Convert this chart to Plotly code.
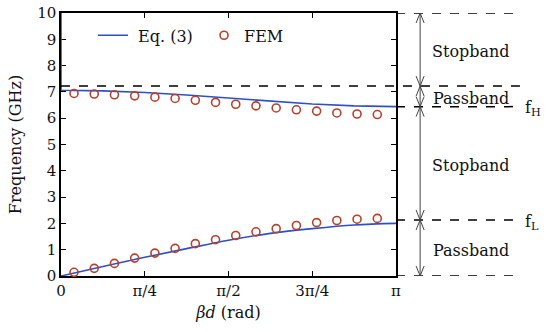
import math
import plotly.graph_objects as go

PI = math.pi

# Eq. (3) dispersion curves
eq_lower_x = [0, PI/8, 2*PI/8, 3*PI/8, 4*PI/8, 5*PI/8, 6*PI/8, 7*PI/8, PI]
eq_lower_y = [0.0, 0.36, 0.71, 1.04, 1.36, 1.62, 1.80, 1.94, 2.00]
eq_upper_x = [0, 0, PI/8, 2*PI/8, 3*PI/8, 4*PI/8, 5*PI/8, 6*PI/8, 7*PI/8, PI]
eq_upper_y = [10.0, 7.06, 7.04, 6.98, 6.88, 6.76, 6.64, 6.54, 6.47, 6.44]

# FEM points
fem_x = [0.122 + 0.1896 * k for k in range(17)]
fem_lower = [0.14, 0.29, 0.48, 0.68, 0.87, 1.05, 1.23, 1.38, 1.54,
             1.68, 1.80, 1.92, 2.03, 2.11, 2.16, 2.19, 2.22]
fem_upper = [6.94, 6.92, 6.89, 6.85, 6.80, 6.75, 6.68, 6.60, 6.53,
             6.47, 6.39, 6.32, 6.27, 6.20, 6.16, 6.14, 6.11]

x_tickvals = [0, PI/4, PI/2, 3*PI/4, PI]
x_ticktext = ["0", "π/4", "π/2", "3π/4", "π"]

band_edges = [10.0, 7.22, 6.44, 2.13, 0.0]
band_labels = ["Stopband", "Passband", "Stopband", "Passband"]
edge_names = {6.44: "f<sub>H</sub>", 2.13: "f<sub>L</sub>"}

FONT = "DejaVu Serif"
BLUE = "#2F4FC8"
RED = "#B8402A"

fig = go.Figure()
fig.add_trace(go.Scatter(x=eq_lower_x, y=eq_lower_y, mode="lines", name="\u00a0Eq. (3)",
                         line=dict(color=BLUE, width=1.6), line_shape="spline",
                         cliponaxis=False, legend="legend"))
fig.add_trace(go.Scatter(x=eq_upper_x, y=eq_upper_y, mode="lines", name="Eq. (3)",
                         line=dict(color=BLUE, width=1.6),
                         cliponaxis=False, showlegend=False))
fig.add_trace(go.Scatter(x=fem_x, y=fem_lower, mode="markers", name="FEM",
                         marker=dict(symbol="circle-open", size=8, color=RED,
                                     line=dict(width=1.6, color=RED)),
                         cliponaxis=False, legend="legend2"))
fig.add_trace(go.Scatter(x=fem_x, y=fem_upper, mode="markers", name="FEM",
                         marker=dict(symbol="circle-open", size=8, color=RED,
                                     line=dict(width=1.6, color=RED)),
                         cliponaxis=False, showlegend=False))

shapes = []
XR = 1.37
for e in band_edges:
    x0 = 0 if abs(e - 7.22) < 1e-9 else 1
    shapes.append(dict(type="line", xref="paper", yref="y", x0=x0, x1=XR, y0=e, y1=e,
                       line=dict(color="black", width=1.5, dash="dash")))

AX = 1.072
HW = 0.012
HL = 0.38
ACOL = "#444444"
annotations = []
for i, lab in enumerate(band_labels):
    top, bot = band_edges[i], band_edges[i + 1]
    shapes.append(dict(type="line", xref="paper", yref="y", x0=AX, x1=AX, y0=top, y1=bot,
                       line=dict(color=ACOL, width=1)))
    for tip, d in ((top, -HL), (bot, HL)):
        for s in (-1, 1):
            shapes.append(dict(type="line", xref="paper", yref="y",
                               x0=AX, x1=AX + s * HW, y0=tip, y1=tip + d,
                               line=dict(color=ACOL, width=1)))
    annotations.append(dict(xref="paper", yref="y", x=1.223, y=(top + bot) / 2 - 0.08,
                            text=lab, showarrow=False, xanchor="center", yanchor="middle",
                            font=dict(family=FONT, size=16, color="#111")))
for e, name in edge_names.items():
    annotations.append(dict(xref="paper", yref="y", x=1.38, y=e - 0.08, text=name,
                            showarrow=False, xanchor="left", yanchor="middle",
                            font=dict(family=FONT, size=16, color="#111")))

legend_common = dict(orientation="h", y=0.915, xanchor="left", yanchor="middle",
                     bgcolor="rgba(0,0,0,0)", font=dict(family=FONT, size=16), itemwidth=30)
fig.update_layout(
    width=550, height=332,
    margin=dict(l=61, r=154, t=13, b=56, autoexpand=False),
    paper_bgcolor="white", plot_bgcolor="white",
    font=dict(family=FONT, size=15, color="#111"),
    showlegend=True,
    legend=dict(x=0.0955, **legend_common),
    legend2=dict(x=0.427, **legend_common),
    shapes=shapes,
    annotations=annotations,
)
fig.update_xaxes(range=[0, PI], tickvals=x_tickvals, ticktext=x_ticktext,
                 showline=True, linecolor="black", linewidth=1.5, mirror="ticks",
                 ticks="inside", ticklen=5, tickcolor="black", showgrid=False, zeroline=False,
                 layer="below traces", automargin=False, ticklabeloverflow="allow",
                 title=dict(text="<i>βd</i> (rad)", standoff=8, font=dict(family=FONT, size=16)))
fig.update_yaxes(range=[0, 10], dtick=1, tick0=0,
                 showline=True, linecolor="black", linewidth=1.5, mirror="ticks",
                 ticks="inside", ticklen=5, tickcolor="black", showgrid=False, zeroline=False,
                 layer="below traces", automargin=False, ticklabeloverflow="allow",
                 title=dict(text="Frequency (GHz)", standoff=12, font=dict(family=FONT, size=16)))

fig.write_html("out.html", config={"displayModeBar": False},
               post_script="document.body.style.margin='0';document.body.style.overflow='hidden';")
